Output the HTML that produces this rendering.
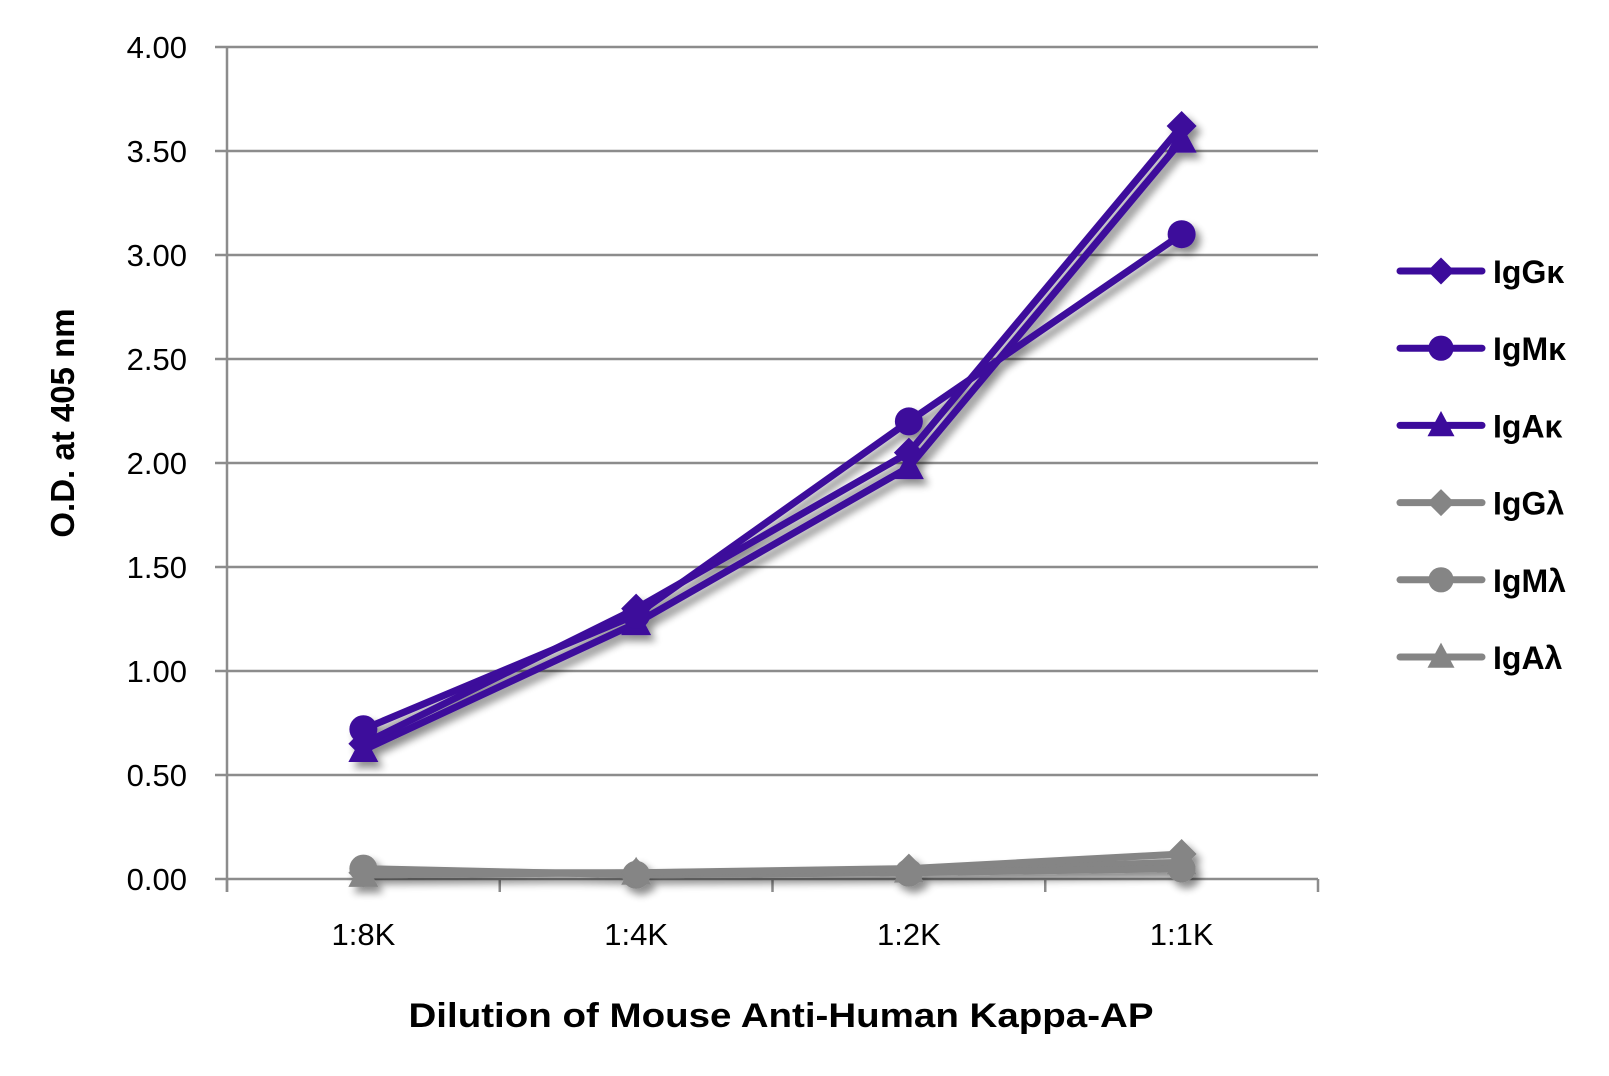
<!DOCTYPE html>
<html><head><meta charset="utf-8"><style>
html,body{margin:0;padding:0;background:#fff}
svg{display:block}
text{font-family:"Liberation Sans",sans-serif}
</style></head><body>
<svg id="chart" width="1609" height="1076" viewBox="0 0 1609 1076" xmlns="http://www.w3.org/2000/svg">
<defs>
<filter id="sh" x="-20%" y="-20%" width="140%" height="140%"><feGaussianBlur in="SourceAlpha" stdDeviation="4"/><feOffset dx="5" dy="6"/><feComponentTransfer><feFuncA type="linear" slope="0.45"/></feComponentTransfer><feMerge><feMergeNode/><feMergeNode in="SourceGraphic"/></feMerge></filter>
</defs>
<g id="grid"></g>
<g id="axes"></g>
<g id="series" filter="url(#sh)"></g>
<g id="legend"></g>
<text transform="translate(74,423) rotate(-90)" text-anchor="middle" font-size="33" font-weight="bold">O.D. at 405 nm</text>
<text x="781" y="1027" text-anchor="middle" font-size="34" font-weight="bold" textLength="745" lengthAdjust="spacingAndGlyphs">Dilution of Mouse Anti-Human Kappa-AP</text>
</svg>
<script>
const categories = ["1:8K","1:4K","1:2K","1:1K"];
const yTicks = ["0.00","0.50","1.00","1.50","2.00","2.50","3.00","3.50","4.00"];
const seriesNames = ["IgGκ","IgMκ","IgAκ","IgGλ","IgMλ","IgAλ"];
const igGk = [0.65,1.30,2.05,3.62];
const igMk = [0.72,1.27,2.20,3.10];
const igAk = [0.62,1.23,1.98,3.55];
const igGl = [0.03,0.03,0.05,0.12];
const igMl = [0.05,0.02,0.03,0.05];
const igAl = [0.02,0.03,0.04,0.08];
const seriesValues = [igGk,igMk,igAk,igGl,igMl,igAl];

const NS="http://www.w3.org/2000/svg";
const L=227,R=1318,T=47,B=879,YMAX=4;
const xs=i=>L+(R-L)/categories.length*(i+0.5);
const ys=v=>B-(B-T)*v/YMAX;
function mk(tag,attrs,parent){const e=document.createElementNS(NS,tag);for(const k in attrs)e.setAttribute(k,attrs[k]);parent.appendChild(e);return e;}
const grid=document.getElementById('grid'),axes=document.getElementById('axes'),ser=document.getElementById('series'),leg=document.getElementById('legend');
yTicks.forEach(t=>{const y=ys(parseFloat(t));
 if(parseFloat(t)>0){const g=mk('line',{x1:L-12,x2:R,y1:y,y2:y,stroke:'#8c8c8c','stroke-width':2.5},grid);
 
 }
 const tx=mk('text',{x:187,y:y+11,'text-anchor':'end','font-size':31},axes);tx.textContent=t;
 
 
});
mk('line',{x1:L,x2:L,y1:T,y2:B+13,stroke:'#8c8c8c','stroke-width':2.5},axes);
mk('line',{x1:L-12,x2:R,y1:B,y2:B,stroke:'#8c8c8c','stroke-width':2.5},axes);
for(let i=0;i<=categories.length;i++){const x=L+(R-L)/categories.length*i;mk('line',{x1:x,x2:x,y1:B,y2:B+13,stroke:'#8c8c8c','stroke-width':2.5},axes);}
categories.forEach((c,i)=>{const t=mk('text',{x:xs(i),y:945,'text-anchor':'middle','font-size':31},axes);t.textContent=c;
 
 });
const colors=['#3c0b9b','#3c0b9b','#3c0b9b','#858585','#858585','#858585'];
const shapes=['diamond','circle','triangle','diamond','circle','triangle'];
function marker(shape,x,y,c,p,s){
 if(shape==='circle')return mk('circle',{cx:x,cy:y,r:14*s,fill:c},p);
 if(shape==='diamond')return mk('polygon',{points:`${x},${y-15*s} ${x+15*s},${y} ${x},${y+15*s} ${x-15*s},${y}`,fill:c},p);
 return mk('polygon',{points:`${x},${y-16*s} ${x+15*s},${y+12*s} ${x-15*s},${y+12*s}`,fill:c},p);
}
[5,4,3,2,1,0].forEach(k=>{const vals=seriesValues[k];
 const pl=mk('polyline',{points:vals.map((v,i)=>xs(i)+','+ys(v)).join(' '),fill:'none',stroke:colors[k],'stroke-width':7,'stroke-linejoin':'round'},ser);
 
 
 vals.forEach((v,i)=>{const m=marker(shapes[k],xs(i),ys(v),colors[k],ser,1);
  
  });
});
seriesNames.forEach((n,k)=>{const y=271+k*77.2;
 const g=mk('g',{},leg);
 
 
 mk('line',{x1:1400,x2:1482,y1:y,y2:y,stroke:colors[k],'stroke-width':7,'stroke-linecap':'round'},g);
 marker(shapes[k],1441,y,colors[k],g,0.9);
 const t=mk('text',{x:1493,y:y+12,'font-size':32,'font-weight':'bold'},g);t.textContent=n;
});
</script>
</body></html>
